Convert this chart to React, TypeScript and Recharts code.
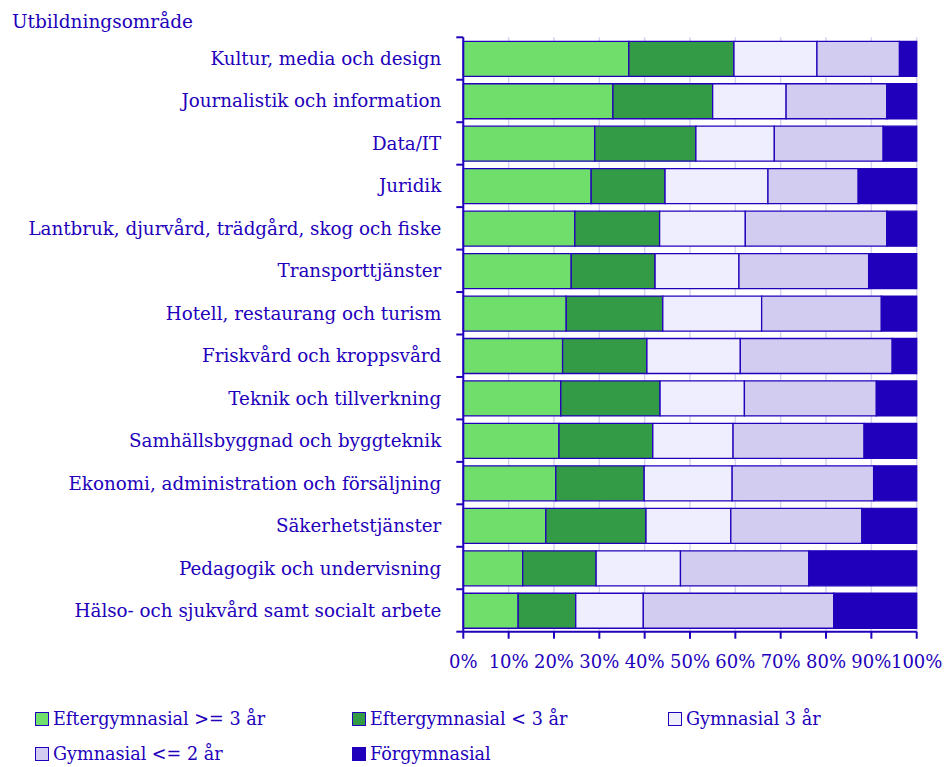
import React from "react";
import { BarChart, Bar, XAxis, YAxis, CartesianGrid } from "recharts";

const categories = [
  "Kultur, media och design",
  "Journalistik och information",
  "Data/IT",
  "Juridik",
  "Lantbruk, djurvård, trädgård, skog och fiske",
  "Transporttjänster",
  "Hotell, restaurang och turism",
  "Friskvård och kroppsvård",
  "Teknik och tillverkning",
  "Samhällsbyggnad och byggteknik",
  "Ekonomi, administration och försäljning",
  "Säkerhetstjänster",
  "Pedagogik och undervisning",
  "Hälso- och sjukvård samt socialt arbete",
];

const eftergymnasial3 = [36.5, 33.0, 29.0, 28.2, 24.6, 23.8, 22.7, 21.9, 21.5, 21.1, 20.4, 18.2, 13.1, 12.1];
const eftergymnasialLt3 = [23.2, 22.0, 22.3, 16.3, 18.7, 18.5, 21.3, 18.6, 21.9, 20.7, 19.5, 22.1, 16.2, 12.7];
const gymnasial3 = [18.3, 16.2, 17.3, 22.7, 18.9, 18.5, 21.8, 20.6, 18.6, 17.7, 19.4, 18.7, 18.6, 14.9];
const gymnasial2 = [18.2, 22.2, 24.0, 19.9, 31.2, 28.6, 26.4, 33.5, 29.1, 28.9, 31.2, 28.9, 28.3, 42.0];
const forgymnasial = [3.8, 6.6, 7.4, 12.9, 6.6, 10.6, 7.8, 5.4, 8.9, 11.6, 9.5, 12.1, 23.8, 18.3];

const xTicks = [0, 0.1, 0.2, 0.3, 0.4, 0.5, 0.6, 0.7, 0.8, 0.9, 1];

const series = [
  { key: "e3", name: "Eftergymnasial >= 3 år", values: eftergymnasial3, color: "#70de6a" },
  { key: "e2", name: "Eftergymnasial < 3 år", values: eftergymnasialLt3, color: "#339a45" },
  { key: "g3", name: "Gymnasial 3 år", values: gymnasial3, color: "#eeeeff" },
  { key: "g2", name: "Gymnasial <= 2 år", values: gymnasial2, color: "#d2ccf0" },
  { key: "fg", name: "Förgymnasial", values: forgymnasial, color: "#2000bb" },
];

const data = categories.map((c, i) => {
  const row: Record<string, string | number> = { cat: c };
  series.forEach((s) => {
    row[s.key] = s.values[i];
  });
  return row;
});

const TEXT = "#2200bb";
const FONT = "'DejaVu Serif', serif";

const W = 944;
const H = 700;
const M = { top: 37.3, right: 27.3, left: 0, bottom: 0 };
const X_AXIS_H = H - 631.7;
const PLOT_H = H - M.top - M.bottom - X_AXIS_H;
const BAND = PLOT_H / categories.length;

const YTick = (props: any) => {
  const { x, y, payload, index } = props;
  const axisX = x + 22;
  return (
    <g>
      <text
        x={x}
        y={y}
        textAnchor="end"
        dominantBaseline="central"
        fill={TEXT}
        fontFamily={FONT}
        fontSize={18.3}
      >
        {payload.value}
      </text>
      <line x1={axisX - 7} x2={axisX} y1={y - BAND / 2} y2={y - BAND / 2} stroke={TEXT} strokeWidth={2} />
      {index === categories.length - 1 && (
        <line x1={axisX - 7} x2={axisX} y1={y + BAND / 2} y2={y + BAND / 2} stroke={TEXT} strokeWidth={2} />
      )}
    </g>
  );
};

export default function App() {
  return (
    <div style={{ position: "absolute", left: 0, top: 0, width: 944, height: 767, background: "#fff" }}>
      <div
        style={{
          position: "absolute",
          left: 12,
          top: 10,
          fontFamily: FONT,
          fontSize: 18.5,
          color: TEXT,
          lineHeight: "24px",
        }}
      >
        Utbildningsområde
      </div>
      <BarChart
        width={W}
        height={H}
        data={data}
        layout="vertical"
        stackOffset="expand"
        margin={M}
        barSize={35}
      >
        <CartesianGrid horizontal={false} vertical={true} stroke="#d6d2f0" strokeWidth={1.5} />
        <XAxis
          type="number"
          domain={[0, 1]}
          ticks={xTicks}
          height={X_AXIS_H}
          tickFormatter={(v: number) => `${Math.round(v * 100)}%`}
          axisLine={{ stroke: TEXT, strokeWidth: 2 }}
          tickLine={{ stroke: TEXT, strokeWidth: 2 }}
          tickSize={7}
          tickMargin={17}
          tick={{ fill: TEXT, fontFamily: FONT, fontSize: 18 }}
          interval={0}
        />
        <YAxis
          type="category"
          dataKey="cat"
          width={463.3}
          axisLine={{ stroke: TEXT, strokeWidth: 2 }}
          tickLine={false}
          tickSize={0}
          tickMargin={22}
          tick={<YTick />}
          interval={0}
        />
        {series.map((s) => (
          <Bar
            key={s.key}
            dataKey={s.key}
            name={s.name}
            stackId="a"
            fill={s.color}
            stroke={TEXT}
            strokeWidth={1.3}
            isAnimationActive={false}
          />
        ))}
      </BarChart>
      <div
        style={{
          position: "absolute",
          left: 35,
          top: 706,
          width: 940,
          display: "grid",
          gridTemplateColumns: "317px 316px 280px",
          rowGap: 9,
          fontFamily: FONT,
          fontSize: 17.6,
          color: TEXT,
        }}
      >
        {series.map((s) => (
          <div key={s.key} style={{ display: "flex", alignItems: "center", height: 26 }}>
            <span
              style={{
                display: "inline-block",
                width: 12,
                height: 12,
                background: s.color,
                border: `1.5px solid ${TEXT}`,
                marginRight: 4,
              }}
            />
            <span>{s.name}</span>
          </div>
        ))}
      </div>
    </div>
  );
}
